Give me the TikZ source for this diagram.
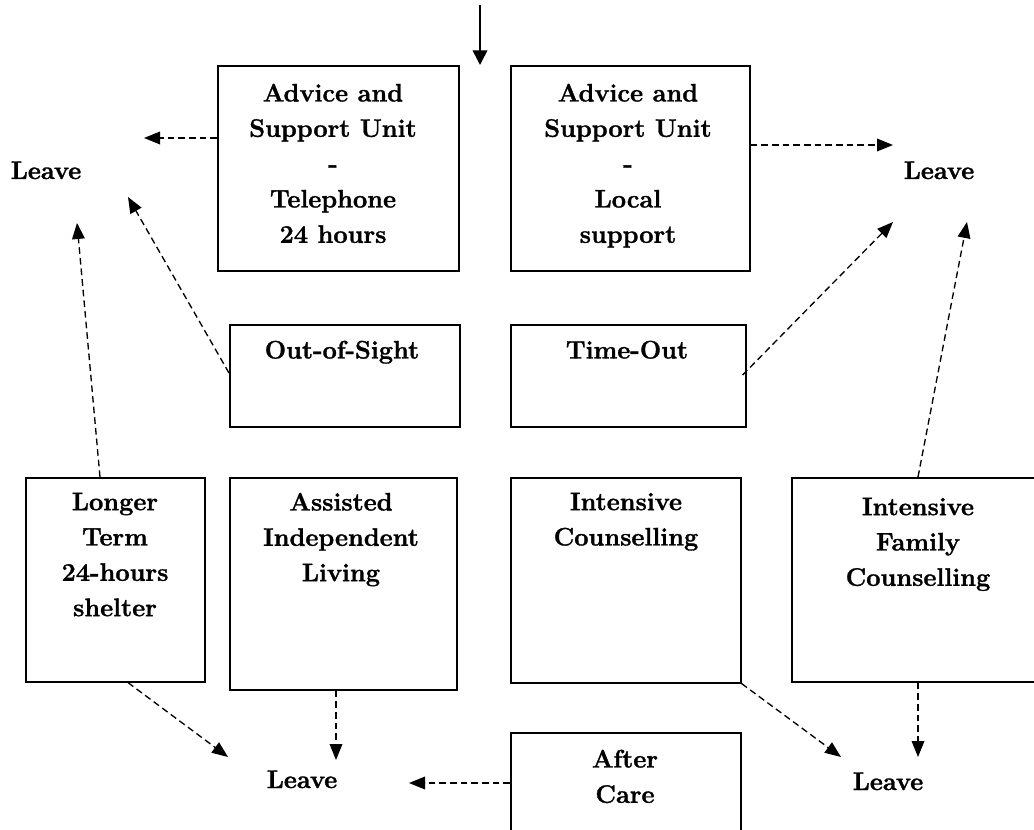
\documentclass[tikz,border=0pt]{standalone}
\usepackage{fontspec}
\setmainfont{Latin Modern Roman}[BoldFeatures={FakeBold=1.3}]
\usetikzlibrary{arrows.meta,calc}
\begin{document}
\begin{tikzpicture}[x=0.75pt,y=-0.75pt,
  box/.style={draw,line width=1.2pt,anchor=north west,inner sep=0},
  txt/.style={font=\bfseries\fontsize{19}{26.5}\selectfont,align=center,inner sep=0,anchor=north},
  lv/.style={font=\bfseries\fontsize{19}{22}\selectfont,inner sep=0,anchor=base},
  dar/.style={line width=1pt,dash pattern=on 5pt off 3pt,-{Triangle[length=12pt,width=9.5pt]}},
  sar/.style={line width=1.2pt,-{Triangle[length=11pt,width=11pt]}}]
\useasboundingbox (0,0) rectangle (1034,830);
\clip (0,0) rectangle (1034,830);
% boxes
\node[box,minimum width=180.75pt,minimum height=153.75pt] (a1) at (217,65) {};
\node[box,minimum width=179.25pt,minimum height=153.75pt] (a2) at (510,65) {};
\node[box,minimum width=172.5pt,minimum height=76.5pt] (oos) at (229,324) {};
\node[box,minimum width=176.25pt,minimum height=76.5pt] (to) at (510,324) {};
\node[box,minimum width=134.25pt,minimum height=153pt] (lt) at (25,477) {};
\node[box,minimum width=170.25pt,minimum height=159pt] (ail) at (229,477) {};
\node[box,minimum width=172.5pt,minimum height=153.75pt] (ic) at (510,477) {};
\node[box,minimum width=191.25pt,minimum height=153pt] (ifc) at (791,477) {};
\node[box,minimum width=172.5pt,minimum height=90pt] (ac) at (510,732) {};
% texts
\node[txt] (ta1) at (333,83.5) {Advice and\\Support Unit\\-\\Telephone\\24 hours};
\node[txt] (ta2) at (628,83.5) {Advice and\\Support Unit\\-\\Local\\support};
\node[txt] (toos) at (342,340.5) {Out-of-Sight};
\node[txt] (tto) at (627,340.5) {Time-Out};
\node[txt] (tlt) at (115,492.5) {Longer\\Term\\24-hours\\shelter};
\node[txt] (tail) at (341,492.5) {Assisted\\Independent\\Living};
\node[txt] (tic) at (626,492.5) {Intensive\\Counselling};
\node[txt] (tifc) at (918,497.5) {Intensive\\Family\\Counselling};
\node[txt] (tac) at (625,749.5) {After\\Care};
% leave labels
\node[lv] (l1) at (46,179) {Leave};
\node[lv] (l2) at (939,179) {Leave};
\node[lv] (l3) at (302,788) {Leave};
\node[lv] (l4) at (888,790) {Leave};
% incoming arrow
\coordinate (in) at (480,5);
\draw[sar] (in) -- (in |- a1.north);
% dashed arrows
\coordinate (e1) at (144,138);
\draw[dar] (a1.west |- e1) -- (e1);
\coordinate (e2) at (893,145);
\draw[dar] (a2.east |- e2) -- (e2);
\coordinate (e3) at (128,197);
\draw[dar] ($(oos.north west)+(0,49)$) -- (e3);
\coordinate (e4) at (77,223);
\draw[dar] ($(lt.north west)+(75,0)$) -- (e4);
\coordinate (e5) at (893,222);
\draw[dar] ($(to.north east)+(-4,51)$) -- (e5);
\coordinate (e6) at (967,222);
\draw[dar] ($(ifc.north west)+(127,0)$) -- (e6);
\coordinate (e7) at (228,757);
\draw[dar] ($(lt.south west)+(103,0)$) -- (e7);
\coordinate (e8) at (336,760);
\draw[dar] (ail.south -| e8) -- (e8);
\coordinate (e9) at (409,783);
\draw[dar] (ac.west |- e9) -- (e9);
\coordinate (e10) at (841,757);
\draw[dar] (ic.south east) -- (e10);
\coordinate (e11) at (918,757);
\draw[dar] (ifc.south -| e11) -- (e11);
\end{tikzpicture}
\end{document}
